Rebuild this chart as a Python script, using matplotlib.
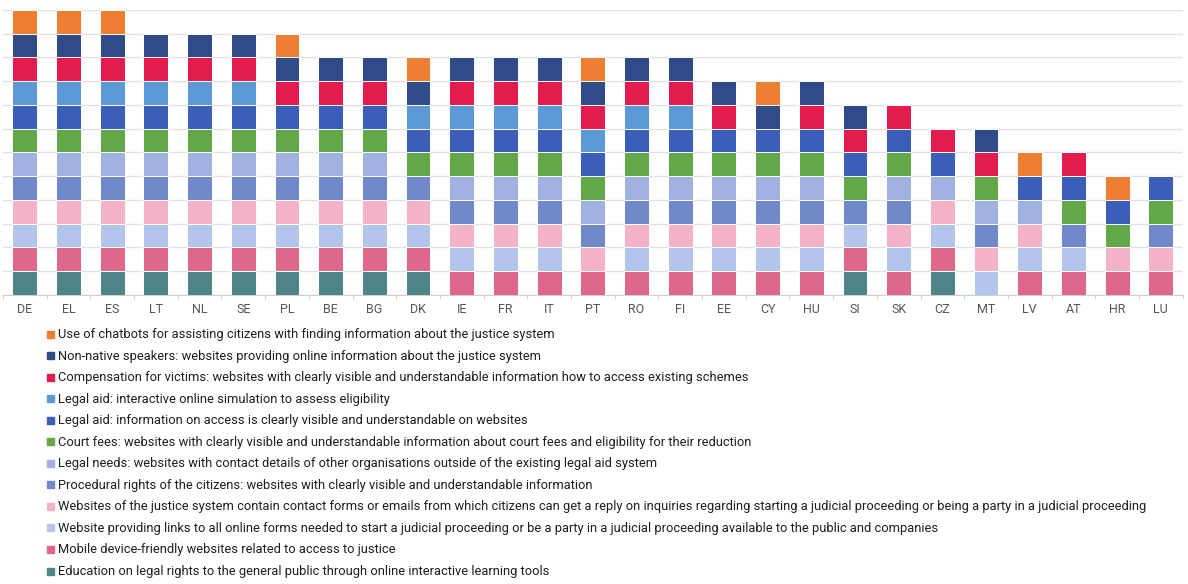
import numpy as np
import matplotlib.pyplot as plt
from matplotlib.patches import Rectangle

countries = ["DE", "EL", "ES", "LT", "NL", "SE", "PL", "BE", "BG", "DK", "IE", "FR", "IT", "PT",
             "RO", "FI", "EE", "CY", "HU", "SI", "SK", "CZ", "MT", "LV", "AT", "HR", "LU"]

# one list per indicator (1 = available), stacking order bottom -> top
education = [1, 1, 1, 1, 1, 1, 1, 1, 1, 1, 0, 0, 0, 0, 0, 0, 0, 0, 0, 1, 0, 1, 0, 0, 0, 0, 0]
mobile = [1, 1, 1, 1, 1, 1, 1, 1, 1, 1, 1, 1, 1, 1, 1, 1, 1, 1, 1, 1, 1, 1, 0, 1, 1, 1, 1]
online_forms = [1, 1, 1, 1, 1, 1, 1, 1, 1, 1, 1, 1, 1, 0, 1, 1, 1, 1, 1, 1, 1, 1, 1, 1, 1, 0, 0]
contact_forms = [1, 1, 1, 1, 1, 1, 1, 1, 1, 1, 1, 1, 1, 1, 1, 1, 1, 1, 1, 0, 1, 1, 1, 1, 0, 1, 1]
procedural = [1, 1, 1, 1, 1, 1, 1, 1, 1, 1, 1, 1, 1, 1, 1, 1, 1, 1, 1, 1, 1, 0, 1, 0, 1, 0, 1]
legal_needs = [1, 1, 1, 1, 1, 1, 1, 1, 1, 0, 1, 1, 1, 1, 1, 1, 1, 1, 1, 0, 1, 1, 1, 1, 0, 0, 0]
court_fees = [1, 1, 1, 1, 1, 1, 1, 1, 1, 1, 1, 1, 1, 1, 1, 1, 1, 1, 1, 1, 1, 0, 1, 0, 1, 1, 1]
legal_aid_info = [1, 1, 1, 1, 1, 1, 1, 1, 1, 1, 1, 1, 1, 1, 1, 1, 1, 1, 1, 1, 1, 1, 0, 1, 1, 1, 1]
legal_aid_sim = [1, 1, 1, 1, 1, 1, 0, 0, 0, 1, 1, 1, 1, 1, 1, 1, 0, 0, 0, 0, 0, 0, 0, 0, 0, 0, 0]
compensation = [1, 1, 1, 1, 1, 1, 1, 1, 1, 0, 1, 1, 1, 1, 1, 1, 1, 0, 1, 1, 1, 1, 1, 0, 1, 0, 0]
non_native = [1, 1, 1, 1, 1, 1, 1, 1, 1, 1, 1, 1, 1, 1, 1, 1, 1, 1, 1, 1, 0, 0, 1, 0, 0, 0, 0]
chatbots = [1, 1, 1, 0, 0, 0, 1, 0, 0, 1, 0, 0, 0, 1, 0, 0, 0, 1, 0, 0, 0, 0, 0, 1, 0, 1, 0]

labels = [
    "Education on legal rights to the general public through online interactive learning tools",
    "Mobile device-friendly websites related to access to justice",
    "Website providing links to all online forms needed to start a judicial proceeding or be a party in a judicial proceeding available to the public and companies",
    "Websites of the justice system contain contact forms or emails from which citizens can get a reply on inquiries regarding starting a judicial proceeding or being a party in a judicial proceeding",
    "Procedural rights of the citizens: websites with clearly visible and understandable information",
    "Legal needs: websites with contact details of other organisations outside of the existing legal aid system",
    "Court fees: websites with clearly visible and understandable information about court fees and eligibility for their reduction",
    "Legal aid: information on access is clearly visible and understandable on websites",
    "Legal aid: interactive online simulation to assess eligibility",
    "Compensation for victims: websites with clearly visible and understandable information how to access existing schemes",
    "Non-native speakers: websites providing online information about the justice system",
    "Use of chatbots for assisting citizens with finding information about the justice system",
]
series = [education, mobile, online_forms, contact_forms, procedural, legal_needs,
          court_fees, legal_aid_info, legal_aid_sim, compensation, non_native, chatbots]
colors = ["#4e8589", "#df6789", "#b3c5ea", "#f4b3c6", "#7189cb", "#a2b2e0",
          "#63a846", "#3b5fb9", "#5b9ad6", "#e31c50", "#2f4c89", "#ee7e31"]

plt.rcParams["font.family"] = ["Roboto", "DejaVu Sans"]

fig = plt.figure(figsize=(11.88, 5.84), dpi=100)
ax = fig.add_axes([0.0025, 0.495, 0.993, 0.488])

x = np.arange(len(countries))
bottom = np.zeros(len(countries))
for vals, col in zip(series, colors):
    vals = np.array(vals, dtype=float)
    ax.bar(x, vals, bottom=bottom, width=0.57, color=col,
           edgecolor="white", linewidth=0.7, zorder=3)
    bottom += vals

ax.set_xlim(-0.5, len(countries) - 0.5)
ax.set_ylim(0, 12)
ax.set_yticks(np.arange(0, 13))
ax.yaxis.grid(True, color="#e2e2e2", linewidth=1, zorder=0)
ax.tick_params(axis="y", left=False, labelleft=False)
ax.set_xticks(x)
ax.set_xticklabels(countries, fontsize=9, color="#555555")
ax.tick_params(axis="x", length=0, pad=6)
ax.set_xticks(np.arange(-0.5, len(countries), 1), minor=True)
ax.tick_params(axis="x", which="minor", length=3, color="#cccccc")
for s in ["left", "right", "top"]:
    ax.spines[s].set_visible(False)
ax.spines["bottom"].set_color("#d0d0d0")

# legend, chatbots first
W, H = 1188, 584
for i, k in enumerate(range(len(labels) - 1, -1, -1)):
    yc = 334 + i * 21.55
    fig.patches.append(Rectangle((47 / W, 1 - (yc + 3.5) / H), 7 / W, 7 / H,
                                 transform=fig.transFigure, color=colors[k]))
    fig.text(58 / W, 1 - (yc + 0.5) / H, labels[k], fontsize=9.25, color="#1e1e1e",
             va="center", ha="left")

fig.savefig("out.png", dpi=100)
